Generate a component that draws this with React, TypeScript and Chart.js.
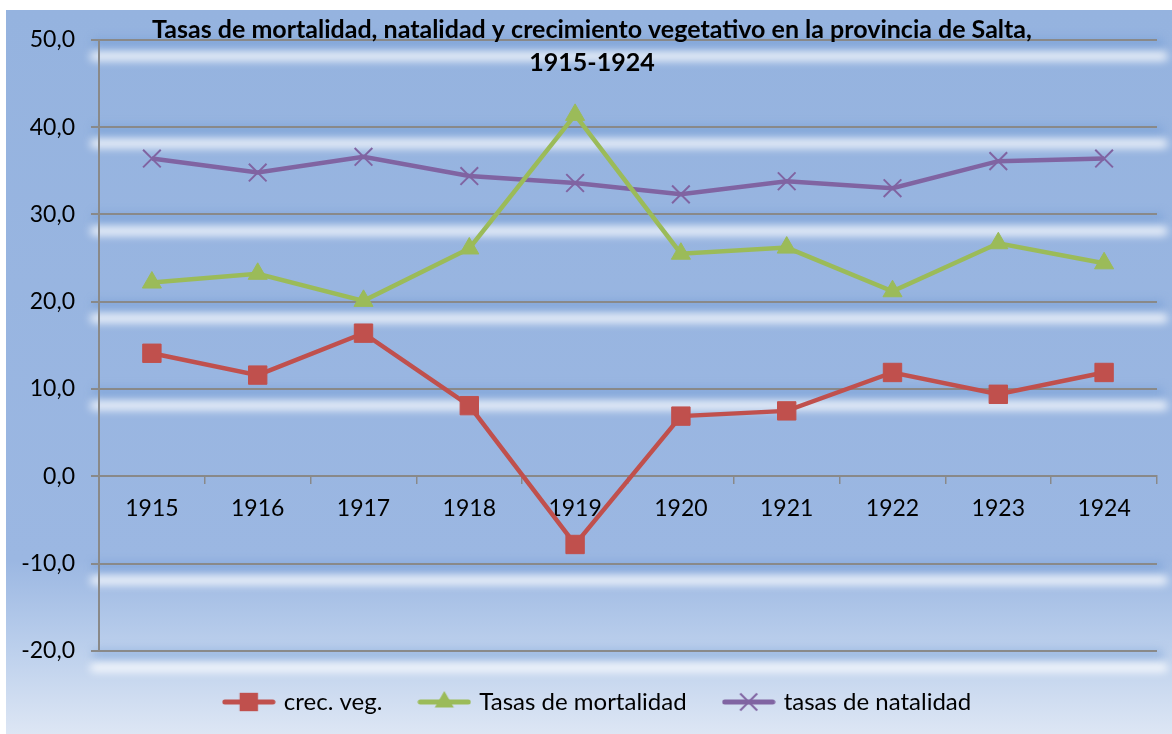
import React, { useEffect, useRef } from 'react';
import { Chart, registerables } from 'chart.js';

Chart.register(...registerables);

// ---- data ----
const years = ['1915', '1916', '1917', '1918', '1919', '1920', '1921', '1922', '1923', '1924'];
const crecVeg = [14.1, 11.6, 16.4, 8.1, -7.8, 6.9, 7.5, 11.9, 9.4, 11.9];
const mortalidad = [22.2, 23.2, 20.1, 26.1, 41.4, 25.5, 26.2, 21.2, 26.7, 24.4];
const natalidad = [36.4, 34.8, 36.6, 34.4, 33.6, 32.3, 33.8, 33.0, 36.1, 36.4];
const seriesNames = ['crec. veg.', 'Tasas de mortalidad', 'tasas de natalidad'];
const titleLines = [
  'Tasas de mortalidad, natalidad y crecimiento vegetativo en la provincia de Salta,',
  '1915-1924',
];
const yMin = -20;
const yMax = 50;
const yStep = 10;

const RED = '#C0504D';
const GREEN = '#9BBB59';
const PURPLE = '#8064A2';
const GRID = '#898989';
const FONT = 'Lato, "Open Sans", sans-serif';

function makeIcon(color: string, style: string, r: number): HTMLCanvasElement {
  const c = document.createElement('canvas');
  c.width = 54;
  c.height = 24;
  const ctx = c.getContext('2d') as CanvasRenderingContext2D;
  const cy = 12;
  ctx.strokeStyle = color;
  ctx.lineWidth = 5;
  ctx.lineCap = 'round';
  ctx.beginPath();
  ctx.moveTo(3, cy);
  ctx.lineTo(51, cy);
  ctx.stroke();
  ctx.fillStyle = color;
  const cx = 27;
  if (style === 'rect') {
    const s = r * Math.SQRT1_2;
    ctx.fillRect(cx - s, cy - s, 2 * s, 2 * s);
  } else if (style === 'triangle') {
    ctx.beginPath();
    ctx.moveTo(cx, cy - r);
    ctx.lineTo(cx + r * Math.sin(Math.PI / 3), cy + r * 0.5);
    ctx.lineTo(cx - r * Math.sin(Math.PI / 3), cy + r * 0.5);
    ctx.closePath();
    ctx.fill();
  } else {
    const o = r * Math.SQRT1_2;
    ctx.lineWidth = 2;
    ctx.lineCap = 'butt';
    ctx.beginPath();
    ctx.moveTo(cx - o, cy - o);
    ctx.lineTo(cx + o, cy + o);
    ctx.moveTo(cx - o, cy + o);
    ctx.lineTo(cx + o, cy - o);
    ctx.stroke();
  }
  return c;
}

const backgroundPlugin = {
  id: 'excelBackground',
  beforeDraw(chart: any) {
    const { ctx, width, height } = chart;
    ctx.save();
    const g = ctx.createLinearGradient(0, 0, 0, height);
    g.addColorStop(0, '#95B3DF');
    g.addColorStop(0.76, '#9BB7E2');
    g.addColorStop(0.88, '#BBCFEC');
    g.addColorStop(1, '#DDE6F4');
    ctx.fillStyle = g;
    ctx.fillRect(0, 0, width, height);

    const ys = chart.scales.y;
    const area = chart.chartArea;
    for (let v = yMin; v <= yMax; v += yStep) {
      if (v === 0) continue;
      const py = ys.getPixelForValue(v);
      // darker band
      ctx.filter = 'blur(4px)';
      ctx.fillStyle = 'rgba(100,145,210,0.35)';
      ctx.fillRect(area.left - 6, py - 2, area.right - area.left + 12, 12);
      // white glow
      ctx.filter = 'blur(4px)';
      ctx.fillStyle = 'rgba(255,255,255,0.85)';
      ctx.beginPath();
      const x0 = area.left - 9;
      const x1 = width - 4;
      const top = py + 12;
      const h = 9;
      ctx.moveTo(x0 + h / 2, top);
      ctx.lineTo(x1 - h / 2, top);
      ctx.arc(x1 - h / 2, top + h / 2, h / 2, -Math.PI / 2, Math.PI / 2);
      ctx.lineTo(x0 + h / 2, top + h);
      ctx.arc(x0 + h / 2, top + h / 2, h / 2, Math.PI / 2, Math.PI * 1.5);
      ctx.closePath();
      ctx.fill();
    }
    ctx.filter = 'none';
    ctx.restore();
  },
  afterDraw(chart: any) {
    const { ctx } = chart;
    ctx.save();
    ctx.fillStyle = '#000';
    ctx.font = `bold 25px ${FONT}`;
    ctx.textAlign = 'center';
    ctx.textBaseline = 'alphabetic';
    const cx = 586;
    ctx.fillText(titleLines[0], cx, 28);
    ctx.fillText(titleLines[1], cx, 61);
    ctx.restore();
  },
};

export default function App() {
  const ref = useRef<HTMLCanvasElement | null>(null);

  useEffect(() => {
    if (!ref.current) return;
    const icons = [
      makeIcon(RED, 'rect', 13),
      makeIcon(GREEN, 'triangle', 11),
      makeIcon(PURPLE, 'crossRot', 12),
    ];
    const chart = new Chart(ref.current, {
      type: 'line',
      data: {
        labels: years,
        datasets: [
          {
            label: seriesNames[0],
            data: crecVeg,
            borderColor: RED,
            backgroundColor: RED,
            borderWidth: 4.5,
            pointStyle: 'rect',
            pointRadius: 13,
            pointBorderWidth: 1,
            tension: 0,
          },
          {
            label: seriesNames[1],
            data: mortalidad,
            borderColor: GREEN,
            backgroundColor: GREEN,
            borderWidth: 4.5,
            pointStyle: 'triangle',
            pointRadius: 11,
            pointBorderWidth: 1,
            tension: 0,
          },
          {
            label: seriesNames[2],
            data: natalidad,
            borderColor: PURPLE,
            backgroundColor: PURPLE,
            borderWidth: 4.5,
            pointStyle: 'crossRot',
            pointRadius: 12.5,
            pointBorderWidth: 2,
            tension: 0,
          },
        ],
      },
      options: {
        responsive: false,
        animation: false,
        devicePixelRatio: 1,
        layout: { padding: { top: 28, right: -19, bottom: 10, left: 0 } },
        plugins: {
          title: { display: false },
          tooltip: { enabled: false },
          legend: {
            position: 'bottom',
            labels: {
              usePointStyle: true,
              pointStyleWidth: 46,
              padding: 39,
              color: '#000',
              font: { family: FONT, size: 24 },
              generateLabels: (ch: any) =>
                ch.data.datasets.map((ds: any, i: number) => ({
                  text: ds.label,
                  pointStyle: icons[i],
                  fillStyle: ds.borderColor,
                  strokeStyle: ds.borderColor,
                  lineWidth: 0,
                  hidden: false,
                  datasetIndex: i,
                  fontColor: '#000',
                })),
            },
          },
        },
        scales: {
          x: {
            type: 'category',
            position: { y: 0 } as any,
            offset: true,
            grid: {
              display: true,
              drawOnChartArea: false,
              drawTicks: true,
              tickLength: 7,
              color: GRID,
              lineWidth: 1.5,
              offset: true,
            },
            border: { display: true, color: GRID, width: 2 },
            ticks: {
              color: '#000',
              font: { family: FONT, size: 23 },
              padding: 11,
              maxRotation: 0,
              autoSkip: false,
            },
          },
          y: {
            min: yMin,
            max: yMax,
            afterFit: (scale: any) => {
              scale.width = 93;
            },
            grid: {
              color: GRID,
              lineWidth: 2,
              tickLength: 8,
              drawTicks: true,
            },
            border: { display: true, color: GRID, width: 2 },
            ticks: {
              stepSize: yStep,
              color: '#000',
              padding: 16,
              font: { family: FONT, size: 23 },
              callback: (v: any) => Number(v).toFixed(1).replace('.', ','),
            },
          },
          y2: {
            position: 'right',
            display: true,
            afterFit: (scale: any) => {
              scale.width = 34;
            },
            grid: { display: false, drawTicks: false },
            border: { display: false },
            ticks: { display: false },
          },
        },
      },
      plugins: [backgroundPlugin],
    });
    return () => chart.destroy();
  }, []);

  return (
    <div style={{ position: 'absolute', left: 6, top: 10, width: 1166, height: 724 }}>
      <canvas ref={ref} width={1166} height={724} style={{ display: 'block' }} />
    </div>
  );
}
